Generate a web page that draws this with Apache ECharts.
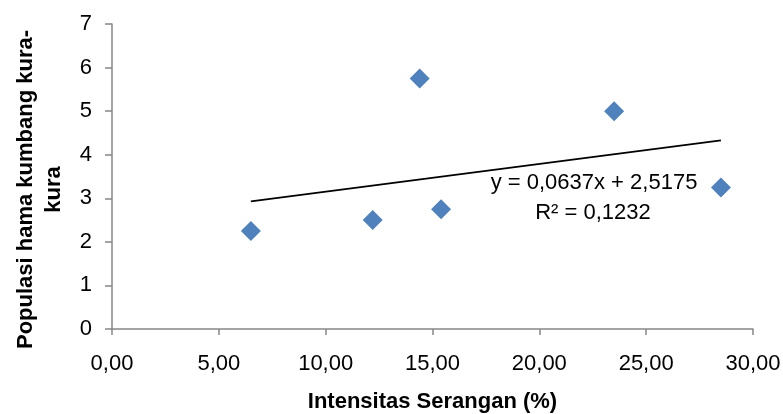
<!DOCTYPE html>
<html>
<head>
<meta charset="utf-8">
<script src="https://cdn.jsdelivr.net/npm/echarts@6/dist/echarts.min.js"></script>
<style>
  html, body { margin: 0; padding: 0; background: #fff; }
  #chart { width: 783px; height: 414px; }
</style>
</head>
<body>
<div id="chart"></div>
<script>
// Intensitas Serangan (%) vs Populasi hama kumbang kura-kura
const intensitas = [6.5, 12.2, 14.4, 15.4, 23.5, 28.5];
const populasi = [2.25, 2.5, 5.75, 2.75, 5.0, 3.25];
// trendline end points (y = 0,0637x + 2,5175)
const trendX = [6.5, 28.5];
const trendY = [2.93, 4.33];
const eqText = ['y = 0,0637x + 2,5175', 'R² = 0,1232'];

const FONT = "'Liberation Sans Narrow', 'Arial Narrow', 'Liberation Sans', Arial, sans-serif";
const axisGrey = '#878787';

const chart = echarts.init(document.getElementById('chart'));
chart.setOption({
  backgroundColor: '#fff',
  animation: false,
  textStyle: { fontFamily: FONT },
  grid: { left: 112, right: 30, top: 24, bottom: 85, containLabel: false, outerBoundsMode: 'none' },
  xAxis: {
    type: 'value',
    min: 0, max: 30, interval: 5,
    name: 'Intensitas Serangan (%)',
    nameLocation: 'middle',
    nameGap: 62,
    nameTextStyle: { fontFamily: FONT, fontSize: 22, fontWeight: 'bold', color: '#000' },
    axisLine: { show: true, lineStyle: { color: axisGrey, width: 1.5 } },
    axisTick: { show: true, length: 6, lineStyle: { color: axisGrey, width: 1.5 } },
    axisLabel: { fontFamily: FONT, fontSize: 22, color: '#000', margin: 24,
                 formatter: v => v.toFixed(2).replace('.', ',') },
    splitLine: { show: false }
  },
  yAxis: {
    type: 'value',
    min: 0, max: 7, interval: 1,
    name: 'Populasi hama kumbang kura-\nkura',
    nameLocation: 'middle',
    nameRotate: 90,
    nameGap: 44,
    nameTextStyle: { fontFamily: FONT, fontSize: 22, fontWeight: 'bold', color: '#000',
                     lineHeight: 28, padding: [0, 26, 0, 0] },
    axisLine: { show: true, lineStyle: { color: axisGrey, width: 1.5 } },
    axisTick: { show: true, length: 7, lineStyle: { color: axisGrey, width: 1.5 } },
    axisLabel: { fontFamily: FONT, fontSize: 22, color: '#000', margin: 20 },
    splitLine: { show: false }
  },
  series: [
    {
      type: 'line',
      data: trendX.map((x, i) => [x, trendY[i]]),
      showSymbol: false,
      symbol: 'none',
      lineStyle: { color: '#000', width: 1.8 },
      z: 2
    },
    {
      type: 'scatter',
      data: intensitas.map((x, i) => [x, populasi[i]]),
      symbol: 'diamond',
      symbolSize: 20,
      itemStyle: { color: '#4F81BD', opacity: 1 },
      z: 3
    }
  ],
  graphic: [
    { type: 'text', x: 594, y: 183,
      style: { text: eqText[0], font: '22px ' + FONT, fill: '#000', align: 'center', verticalAlign: 'middle' } },
    { type: 'text', x: 593, y: 213,
      style: { text: eqText[1], font: '22px ' + FONT, fill: '#000', align: 'center', verticalAlign: 'middle' } }
  ]
});
</script>
</body>
</html>
